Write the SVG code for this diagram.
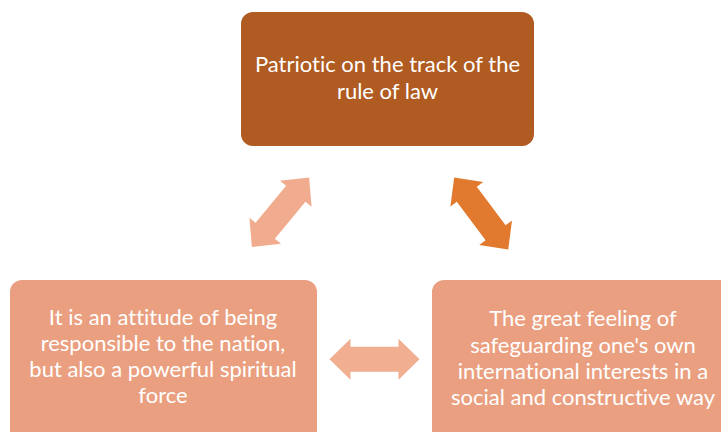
<svg xmlns="http://www.w3.org/2000/svg" width="721" height="432" viewBox="0 0 721 432">
  <style>
    .lbl { font-family: Lato, "Liberation Sans", sans-serif; font-size: 22px; fill: #FFFFFF; text-anchor: middle; font-variant-ligatures: none; }
    .box-dark { fill: #AF5B22; }
    .box-light { fill: #EA9F80; }
  </style>
  <defs>
    <path id="dblarrow" d="M -45,0 L -24,-20.5 L -24,-12.5 L 24,-12.5 L 24,-20.5 L 45,0 L 24,20.5 L 24,12.5 L -24,12.5 L -24,20.5 Z"/>
  </defs>
  <rect width="721" height="432" fill="#FFFFFF"/>
  <g id="connectors">
    <use href="#dblarrow" fill="#F1AC8F" transform="translate(280.5,212.3) rotate(-50.5)"/>
    <use href="#dblarrow" fill="#E17A2F" transform="translate(481.2,213.5) rotate(53.1)"/>
    <use href="#dblarrow" fill="#F1AE91" transform="translate(374.5,359.3)"/>
  </g>
  <g id="node-top">
    <rect class="box-dark" x="241" y="12" width="293" height="134" rx="12" ry="12"/>
    <text class="lbl" x="387.5" y="72">Patriotic on the track of the</text>
    <text class="lbl" x="387.5" y="99">rule of law</text>
  </g>
  <g id="node-left">
    <rect class="box-light" x="10" y="280" width="307" height="170" rx="12" ry="12"/>
    <text class="lbl" x="163" y="325">It is an attitude of being</text>
    <text class="lbl" x="163" y="351">responsible to the nation,</text>
    <text class="lbl" x="163" y="377">but also a powerful spiritual</text>
    <text class="lbl" x="163" y="403">force</text>
  </g>
  <g id="node-right">
    <rect class="box-light" x="432" y="280" width="307" height="170" rx="12" ry="12"/>
    <text class="lbl" x="583" y="326">The great feeling of</text>
    <text class="lbl" x="583" y="352.5">safeguarding one's own</text>
    <text class="lbl" x="583" y="378.5">international interests in a</text>
    <text class="lbl" x="583" y="405">social and constructive way</text>
  </g>
</svg>
